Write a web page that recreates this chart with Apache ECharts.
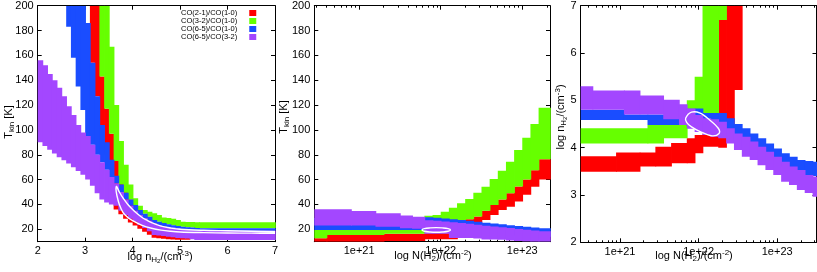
<!DOCTYPE html>
<html><head><meta charset="utf-8">
<script src="https://cdn.jsdelivr.net/npm/echarts@6/dist/echarts.min.js"></script>
<style>html,body{margin:0;padding:0;background:#fff}#c{width:817px;height:272px}</style>
</head><body><div id="c"></div>
<script>
// ---------------- DATA ----------------
const seriesNames = ['CO(2-1)/CO(1-0)','CO(3-2)/CO(1-0)','CO(6-5)/CO(1-0)','CO(6-5)/CO(3-2)'];

// tick values
const p1XTicks = [2,3,4,5,6,7];
const tempTicks = [20,40,60,80,100,120,140,160,180,200];
const logNTicks = [21,22,23];
const logDecades = [20,21,22,23];
const minorMultipliers = [2,3,4,5,6,7,8,9];
const p3YTicks = [2,3,4,5,6,7];

// Panel 1: log n(H2) vs Tkin. rows: [x0, x1, Tlow, Thigh]
const p1Red = [[3.1,3.2,154,200],[3.2,3.3,127,200],[3.3,3.4,104,143],[3.4,3.5,80,117],[3.5,3.6,62,97],[3.6,3.7,36,75],[3.7,3.8,32,57],[3.8,3.9,28.5,50],[3.9,4.0,25.5,44],[4.0,4.1,23,39],[4.1,4.2,20.5,35],[4.2,4.3,18,32],[4.3,4.4,15.5,29],[4.4,4.5,13.2,26],[4.5,4.6,12.8,24],[4.6,4.7,12.4,23],[4.7,4.8,12,22],[4.8,4.9,11.8,21],[4.9,5.0,11.6,20.5],[5.0,5.2,11.5,20]];
const p1Green = [[3.3,3.4,143,200],[3.4,3.5,117,200],[3.5,3.6,97,167],[3.6,3.7,75,120],[3.7,3.8,56,91],[3.8,3.9,49.5,72],[3.9,4.0,44,56],[4.0,4.1,39.5,45],[4.1,4.2,35.5,39],[4.2,4.3,32.5,35.5],[4.3,4.4,30,34.2],[4.4,4.5,27.5,33],[4.5,4.6,26,31.5],[4.6,4.7,25,29.5],[4.7,4.8,24,29],[4.8,4.9,23.3,28.5],[4.9,5.0,22.7,27.5],[5.0,5.1,22.1,26.1],[5.1,5.2,21.7,25.8],[5.2,5.3,21.4,25.8],[5.3,5.4,21.1,25.7],[5.4,7.0,20.8,25.6]];
const p1Blue = [[2.6,2.7,183,200],[2.7,2.8,158,200],[2.8,2.9,135,200],[2.9,3.0,116,200],[3.0,3.1,95,186],[3.1,3.2,88,154],[3.2,3.3,80,127],[3.3,3.4,74,104],[3.4,3.5,68,90],[3.5,3.6,62,76],[3.6,3.7,57,63],[3.7,3.8,50,56],[3.8,3.9,44,49.5],[3.9,4.0,39,44],[4.0,4.1,35,39.5],[4.1,4.2,31.5,35.5],[4.2,4.3,29,32.5],[4.3,4.4,26.8,30],[4.4,4.5,24.8,27.5],[4.5,4.6,23.5,26],[4.6,4.7,22.5,25],[4.7,4.8,21.8,24],[4.8,4.9,21.2,23.3],[4.9,5.0,20.7,22.7],[5.0,5.1,20.2,22.1],[5.1,5.2,19.8,21.7],[5.2,5.3,19.5,21.4],[5.3,5.4,18.9,21.1],[5.4,7.0,18.9,20.8]];
const p1Purple = [[2.0,2.1,90,156],[2.1,2.2,87,152],[2.2,2.3,84,145],[2.3,2.4,81,140],[2.4,2.5,78,134],[2.5,2.6,75.5,127],[2.6,2.7,73,119],[2.7,2.8,70,112],[2.8,2.9,67,104],[2.9,3.0,64,98],[3.0,3.1,60,95],[3.1,3.2,55,88],[3.2,3.3,49,80],[3.3,3.4,44,74],[3.4,3.5,41.5,68],[3.5,3.6,40,62],[3.6,3.7,39,57],[3.7,3.8,35,50],[3.8,3.9,31.5,44],[3.9,4.0,28.5,39],[4.0,4.1,26,35],[4.1,4.2,23.5,31.5],[4.2,4.3,21,29],[4.3,4.4,18.5,26.8],[4.4,4.5,15.4,24.8],[4.5,4.6,15,23.5],[4.6,4.7,14.5,22.5],[4.7,4.8,14,21.8],[4.8,4.9,13.5,21.2],[4.9,5.0,13,20.7],[5.0,5.1,12.7,20.2],[5.1,5.2,12.5,19.8],[5.2,5.3,12,19.5],[5.3,7.0,11.4,18.9]];
// confidence contour, panel 1 (x, T)
const p1Contour = [[7.0,18.0],[6.5,18.4],[6.0,18.8],[5.5,19.2],[5.0,20.0],[4.8,21.0],[4.6,22.5],[4.4,25.3],[4.3,27.3],[4.2,29.5],[4.1,32.5],[4.0,36],[3.9,40],[3.8,45],[3.72,50],[3.66,54.5],[3.65,52],[3.67,47],[3.72,40],[3.8,33.5],[3.9,29.5],[4.0,27],[4.2,23.2],[4.4,20.8],[4.6,19.3],[4.8,18.4],[5.0,17.8],[5.5,17.3],[6.0,17.0],[6.5,16.9],[7.0,16.8]];

// Panel 2: log N(H2) vs Tkin
const p2Red = [[20.45,20.6,10,12.7],[20.6,21.3,10,15.4],[21.3,21.8,10.5,16.5],[21.8,22.2,12,16.8],[22.3,22.4,23,28],[22.4,22.5,24.8,30.2],[22.5,22.6,27.5,35],[22.6,22.7,31.5,39.6],[22.7,22.8,35.5,44],[22.8,22.9,38.2,49],[22.9,23.0,42.4,54.5],[23.0,23.1,47.7,60],[23.1,23.2,54.3,67.5],[23.2,23.34,60,76.3]];
const p2Green = [[20.45,20.6,12.7,19.4],[20.6,21.3,15.4,19.4],[21.3,21.8,16.5,19.6],[21.8,22.05,16.8,19.6],[21.8,21.9,25,30.8],[21.9,22.0,25,31.5],[22.0,22.1,25,34.2],[22.1,22.2,25,37.4],[22.2,22.3,25,40.9],[22.3,22.4,28,44.4],[22.4,22.5,30.2,49.5],[22.5,22.6,35,54.3],[22.6,22.7,39.6,60.5],[22.7,22.8,44,67.2],[22.8,22.9,49,74.4],[22.9,23.0,54.5,83.8],[23.0,23.1,60,93.7],[23.1,23.2,67.5,104.8],[23.2,23.34,76.3,117.9]];
const p2Blue = [[20.45,21.8,19.4,29],[21.8,21.9,19.4,29.6],[21.9,22.0,19.4,29.2],[22.0,22.1,19,28.6],[22.1,22.2,18.5,28],[22.2,22.3,18,27.4],[22.3,22.4,18,26.8],[22.4,22.5,17.5,26],[22.5,22.6,17,25.2],[22.6,22.7,16.5,24.6],[22.7,22.8,16,24],[22.8,22.9,15.5,23.3],[22.9,23.0,15,22.6],[23.0,23.1,14.5,22],[23.1,23.2,14,21.4],[23.2,23.34,14,20.8]];
const p2Purple = [[20.45,20.9,23,36.2],[20.9,21.2,23,34.7],[21.2,21.5,22,33],[21.5,21.65,20.8,31],[21.65,21.8,20.5,30],[21.8,21.9,16.5,27.3],[21.9,22.0,16.5,26.9],[22.0,22.1,16.5,26.3],[22.1,22.2,13,25.7],[22.2,22.3,13,25.1],[22.3,22.4,13,24.5],[22.4,22.5,12.5,23.7],[22.5,22.6,11.8,22.9],[22.6,22.7,11.8,22.3],[22.7,22.8,11.5,21.7],[22.8,22.9,11,21],[22.9,23.0,10.5,20.3],[23.0,23.1,10.2,19.7],[23.1,23.2,10,19.1],[23.2,23.34,10,18.5]];
const p2Contour = [[21.77,19.45],[21.8,20.5],[21.87,21.1],[21.945,21.3],[22.02,21.1],[22.09,20.5],[22.12,19.45],[22.09,18.4],[22.02,17.8],[21.945,17.6],[21.87,17.8],[21.8,18.4]];

// Panel 3: log N(H2) vs log n(H2)
const p3Red = [[20.5,20.95,3.49,3.82],[20.95,21.25,3.49,3.9],[21.25,21.45,3.6,3.9],[21.45,21.65,3.6,4.02],[21.65,21.85,3.67,4.1],[21.85,21.95,3.67,4.2],[21.95,22.05,3.88,4.27],[22.05,22.25,4.02,4.3],[22.25,22.35,4.0,6.7],[22.35,22.45,4.5,7.0],[22.45,22.55,5.22,7.0]];
const p3Green = [[20.5,21.35,4.09,4.41],[21.35,21.55,4.09,4.48],[21.55,21.85,4.2,4.48],[21.85,21.95,4.8,5.0],[21.95,22.05,4.8,5.5],[22.05,22.25,4.7,7.0],[22.25,22.35,6.7,7.0]];
const p3Blue = [[20.5,21.05,4.585,4.8],[21.05,21.35,4.585,4.7],[21.35,21.75,4.48,4.7],[21.75,21.85,4.48,4.78],[21.85,21.95,4.45,4.82],[21.95,22.05,4.45,4.83],[22.05,22.25,4.4,4.73],[22.25,22.35,4.4,4.73],[22.35,22.45,4.3,4.62],[22.45,22.55,4.2,4.5],[22.55,22.65,4.1,4.41],[22.65,22.75,4.0,4.3],[22.75,22.85,3.9,4.2],[22.85,22.95,3.8,4.09],[22.95,23.05,3.7,3.98],[23.05,23.15,3.6,3.88],[23.15,23.25,3.55,3.81],[23.25,23.35,3.45,3.74],[23.35,23.45,3.4,3.72],[23.45,23.5,3.4,3.7]];
const p3Purple = [[20.5,20.65,4.8,5.3],[20.65,21.05,4.8,5.21],[21.05,21.25,4.7,5.21],[21.25,21.55,4.7,5.1],[21.55,21.75,4.6,5.01],[21.75,21.85,4.48,4.92],[21.85,21.95,4.4,4.83],[21.95,22.05,4.33,4.69],[22.05,22.15,4.27,4.62],[22.15,22.25,4.23,4.6],[22.25,22.35,4.2,4.55],[22.35,22.45,4.09,4.41],[22.45,22.55,3.95,4.3],[22.55,22.65,3.81,4.23],[22.65,22.75,3.74,4.13],[22.75,22.85,3.63,4.02],[22.85,22.95,3.53,3.915],[22.95,23.05,3.42,3.81],[23.05,23.15,3.28,3.7],[23.15,23.25,3.21,3.6],[23.25,23.35,3.105,3.53],[23.35,23.45,3.04,3.42],[23.45,23.5,2.96,3.39]];
const p3Contour = [[21.835,4.62],[21.91,4.75],[22.02,4.73],[22.14,4.585],[22.25,4.41],[22.26,4.30],[22.17,4.25],[22.02,4.34],[21.91,4.44],[21.85,4.53]];

// ---------------- STYLE / LAYOUT ----------------
const bandColors = ['#ff0000','#66ff00','#1a4dff','#a347ff'];
const FONT = 'Liberation Sans';
const grids = [
  {left:37.7, top:5.7, width:237.3, height:236},
  {left:314.3, top:5.7, width:235.7, height:236},
  {left:580.7, top:5.7, width:235.8, height:236.6}
];
const minorLog = [];
logDecades.forEach(d => minorMultipliers.forEach(m => minorLog.push(d + Math.log10(m))));

const xAxes = [], yAxes = [], xMain = [], yMain = [];
function addX(g, min, max, majors, minors, fmt) {
  const base = {gridIndex:g, type:'value', min:min, max:max, splitLine:{show:false}};
  xMain[g] = xAxes.length;
  xAxes.push(Object.assign({}, base, {position:'bottom',
    axisLine:{show:true, onZero:false, lineStyle:{color:'#000', width:1}},
    axisTick:{show:true, inside:true, length:4, customValues:majors, lineStyle:{color:'#000', width:1}},
    axisLabel:{show:true, customValues:majors, formatter:fmt, margin:4, fontSize:11, fontFamily:FONT, color:'#000'}}));
  xAxes.push(Object.assign({}, base, {position:'top',
    axisLine:{show:true, onZero:false, lineStyle:{color:'#000', width:1}},
    axisTick:{show:true, inside:true, length:4, customValues:majors, lineStyle:{color:'#000', width:1}},
    axisLabel:{show:false}}));
  if (minors) {
    const mv = minors.filter(v => v > min && v < max);
    ['bottom','top'].forEach(pos => xAxes.push(Object.assign({}, base, {position:pos,
      axisLine:{show:false, onZero:false},
      axisTick:{show:true, inside:true, length:2, customValues:mv, lineStyle:{color:'#000', width:1}},
      axisLabel:{show:false}})));
  }
}
function addY(g, min, max, majors) {
  const base = {gridIndex:g, type:'value', min:min, max:max, splitLine:{show:false}};
  yMain[g] = yAxes.length;
  yAxes.push(Object.assign({}, base, {position:'left',
    axisLine:{show:true, onZero:false, lineStyle:{color:'#000', width:1}},
    axisTick:{show:true, inside:true, length:4, customValues:majors, lineStyle:{color:'#000', width:1}},
    axisLabel:{show:true, customValues:majors, margin:4, fontSize:11, fontFamily:FONT, color:'#000'}}));
  yAxes.push(Object.assign({}, base, {position:'right',
    axisLine:{show:true, onZero:false, lineStyle:{color:'#000', width:1}},
    axisTick:{show:true, inside:true, length:4, customValues:majors, lineStyle:{color:'#000', width:1}},
    axisLabel:{show:false}}));
}
const expFmt = v => '1e+' + Math.round(v);
addX(0, 2, 7, p1XTicks, null, v => String(v));
addX(1, 20.45, 23.34, logNTicks, minorLog, expFmt);
addX(2, 20.5, 23.5, logNTicks, minorLog, expFmt);
addY(0, 10, 200, tempTicks);
addY(1, 10, 200, tempTicks);
addY(2, 2, 7, p3YTicks);

function bandRender(color) {
  return function (params, api) {
    const a = api.coord([api.value(0), api.value(3)]);
    const b = api.coord([api.value(1), api.value(2)]);
    return {type:'rect', shape:{x:a[0], y:a[1], width:b[0]-a[0]+0.8, height:b[1]-a[1]},
            style:{fill:color}};
  };
}
function contourRender(points, closed) {
  return function (params, api) {
    if (params.dataIndex !== 0) return null;
    const pts = points.map(p => api.coord(p));
    return {type: closed ? 'polygon' : 'polyline', shape:{points:pts, smooth:0.35},
            style:{fill:null, stroke:'#fff', lineWidth:1.4}};
  };
}
const panels = [
  [p1Red, p1Green, p1Blue, p1Purple],
  [p2Red, p2Green, p2Blue, p2Purple],
  [p3Red, p3Green, p3Blue, p3Purple]
];
const contours = [[p1Contour,false],[p2Contour,true],[p3Contour,true]];
const series = [];
panels.forEach((bands, g) => {
  bands.forEach((data, i) => {
    series.push({type:'custom', name:seriesNames[i], xAxisIndex:xMain[g], yAxisIndex:yMain[g],
      clip:true, data:data, itemStyle:{color:bandColors[i]}, renderItem:bandRender(bandColors[i]),
      encode:{x:[0,1], y:[2,3]}, z:2, silent:true});
  });
  const c = contours[g];
  series.push({type:'custom', name:'contour'+g, xAxisIndex:xMain[g], yAxisIndex:yMain[g],
    clip:true, data:c[0], renderItem:contourRender(c[0], c[1]), encode:{x:0, y:1}, z:3, silent:true});
});

function rt(x, y, text, rot) {
  return {type:'text', x:x, y:y, rotation:rot||0, z:10,
    style:{text:text, fontSize:11, fontFamily:FONT, fill:'#000', align:'center', verticalAlign:'middle', lineHeight:14,
      rich:{s:{fontSize:8, fontFamily:FONT, lineHeight:8, verticalAlign:'bottom'},
            ss:{fontSize:6, fontFamily:FONT, lineHeight:4, verticalAlign:'bottom'},
            p:{fontSize:8, fontFamily:FONT, lineHeight:8, verticalAlign:'top'}}}};
}

const option = {
  animation:false,
  backgroundColor:'#fff',
  grid: grids,
  xAxis: xAxes,
  yAxis: yAxes,
  legend: {show:true, orient:'vertical', left:181, top:9, itemWidth:7, itemHeight:6, itemGap:0,
    align:'right', padding:0, icon:'rect', selectedMode:false, data:seriesNames,
    textStyle:{fontSize:7.5, fontFamily:FONT, color:'#000', lineHeight:6, padding:[0,7,0,0]}},
  series: series,
  graphic: [
    rt(9, 122, 'T{s|kin} [K]', Math.PI/2),
    rt(160, 257, 'log n{s|H}{ss|2}/(cm{p|-3})'),
    rt(284, 117, 'T{s|kin} [K]', Math.PI/2),
    rt(433, 256, 'log N(H{s|2})/(cm{p|-2})'),
    rt(561, 117, 'log n{s|H}{ss|2}/(cm{p|-3})', Math.PI/2),
    rt(694, 256, 'log N(H{s|2})/(cm{p|-2})')
  ]
};
const chart = echarts.init(document.getElementById('c'), null, {renderer:'canvas', width:817, height:272});
chart.setOption(option);
</script></body></html>
